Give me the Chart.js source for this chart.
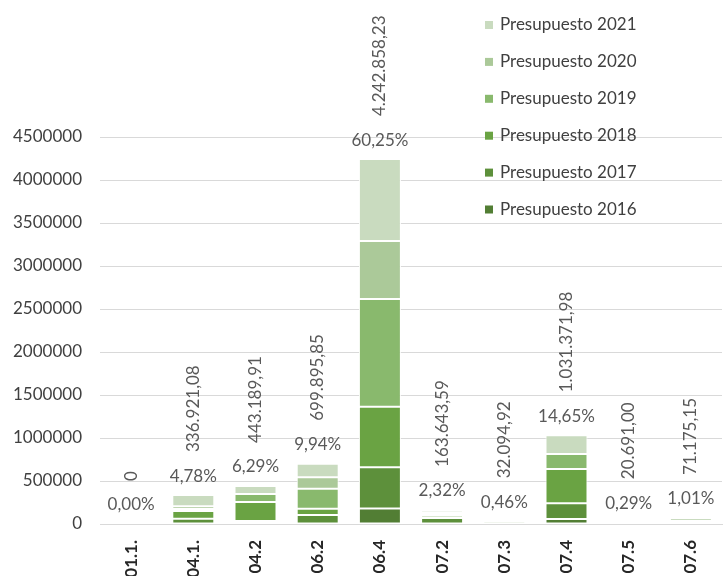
<!DOCTYPE html>
<html>
<head>
<meta charset="utf-8">
<script src="https://cdn.jsdelivr.net/npm/chart.js@4"></script>
<style>
  body { margin: 0; background: #fff; }
  #wrap { width: 725px; height: 576px; position: relative; }
</style>
</head>
<body>
<div id="wrap"><canvas id="myChart"></canvas></div>
<script>
const categories = ["01.1.", "04.1.", "04.2", "06.2", "06.4", "07.2", "07.3", "07.4", "07.5", "07.6"];

const p2016 = [0, 0, 15000, 0, 180000, 5000, 0, 58000, 0, 0];
const p2017 = [0, 60000, 20000, 105000, 479000, 65000, 0, 183000, 0, 0];
const p2018 = [0, 90000, 221000, 73000, 705000, 25000, 0, 399000, 0, 0];
const p2019 = [0, 25000, 93000, 233000, 1252000, 22000, 0, 174000, 0, 15000];
const p2020 = [0, 30000, 0, 133000, 674000, 20000, 0, 0, 0, 20000];
const p2021 = [0, 131921.08, 94189.91, 155895.85, 952858.23, 26643.59, 32094.92, 217371.98, 20691, 36175.15];

const totalLabels = ["0", "336.921,08", "443.189,91", "699.895,85", "4.242.858,23", "163.643,59", "32.094,92", "1.031.371,98", "20.691,00", "71.175,15"];
const shareLabels = ["0,00%", "4,78%", "6,29%", "9,94%", "60,25%", "2,32%", "0,46%", "14,65%", "0,29%", "1,01%"];

const seriesNames = ["Presupuesto 2016", "Presupuesto 2017", "Presupuesto 2018", "Presupuesto 2019", "Presupuesto 2020", "Presupuesto 2021"];
const seriesData = [p2016, p2017, p2018, p2019, p2020, p2021];
const seriesColors = ["#527e34", "#5d903b", "#6aa343", "#89b96d", "#abc999", "#c9dbbf"];

const FONT = "Lato, 'Liberation Sans', sans-serif";

// labels above each stack + legend drawn over the plot
const labelPlugin = {
  id: "labelPlugin",
  afterDatasetsDraw(chart) {
    const ctx = chart.ctx;
    const xs = chart.scales.x;
    const ys = chart.scales.y;
    ctx.save();
    ctx.font = "17px " + FONT;
    ctx.fillStyle = "#595959";
    categories.forEach((c, i) => {
      let sum = 0;
      seriesData.forEach(s => { sum += s[i]; });
      const x = xs.getPixelForValue(i);
      const top = ys.getPixelForValue(sum);
      const pctY = Math.min(top - 19, 508);
      ctx.textAlign = "center";
      ctx.textBaseline = "middle";
      ctx.fillText(shareLabels[i], x, pctY);
      ctx.save();
      ctx.translate(x, pctY - 24);
      ctx.rotate(-Math.PI / 2);
      ctx.textAlign = "left";
      ctx.fillText(totalLabels[i], 0, 0);
      ctx.restore();
    });

    // legend, newest year on top
    ctx.textAlign = "left";
    ctx.textBaseline = "middle";
    for (let k = 0; k < seriesNames.length; k++) {
      const idx = seriesNames.length - 1 - k;
      const y = 25 + k * 36.9;
      ctx.fillStyle = seriesColors[idx];
      ctx.fillRect(485, y - 4, 8, 8);
      ctx.fillStyle = "#404040";
      ctx.fillText(seriesNames[idx], 500, y);
    }
    ctx.restore();
  }
};

new Chart("myChart", {
  type: "bar",
  data: {
    labels: categories,
    datasets: seriesNames.map((name, i) => ({
      label: name,
      data: seriesData[i],
      backgroundColor: seriesColors[i],
      borderColor: "#ffffff",
      borderWidth: 1,
      borderSkipped: false,
      barPercentage: 0.675,
      categoryPercentage: 1
    }))
  },
  options: {
    responsive: true,
    maintainAspectRatio: false,
    animation: false,
    layout: { padding: { top: 137, right: 3, left: 0, bottom: 0 } },
    plugins: {
      legend: { display: false },
      tooltip: { enabled: false }
    },
    scales: {
      x: {
        stacked: true,
        grid: { display: false },
        border: { display: true, color: "#d9d9d9", width: 1 },
        ticks: {
          minRotation: 90,
          maxRotation: 90,
          padding: 8,
          color: "#262626",
          font: { family: FONT, size: 17, weight: "bold" }
        },
        afterFit: (scale) => { scale.height = 52; }
      },
      y: {
        stacked: true,
        min: 0,
        max: 4500000,
        grid: { color: "#d9d9d9", lineWidth: 1, drawTicks: false },
        border: { display: false },
        ticks: {
          stepSize: 500000,
          padding: 18,
          color: "#404040",
          font: { family: FONT, size: 17 },
          callback: (v) => String(v)
        },
        afterFit: (scale) => { scale.width = 100; }
      }
    }
  },
  plugins: [labelPlugin]
});
</script>
</body>
</html>
